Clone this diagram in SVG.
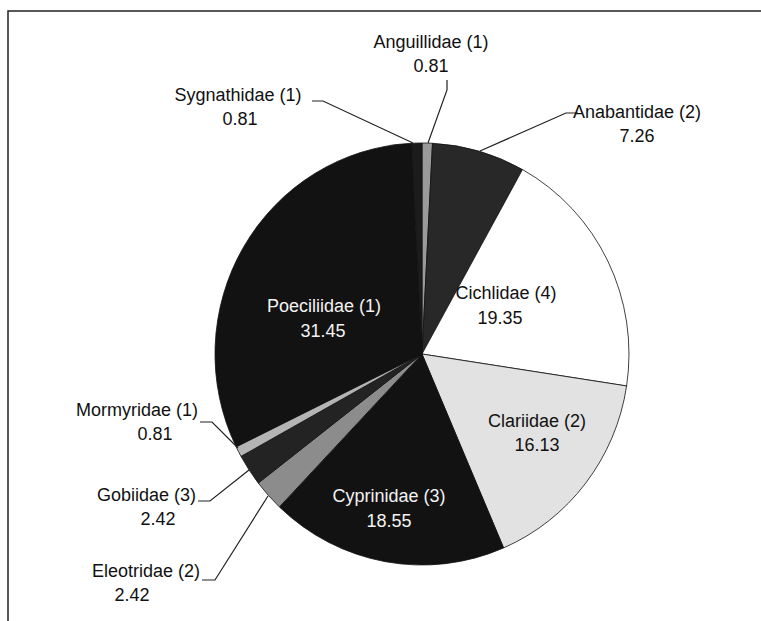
<svg xmlns="http://www.w3.org/2000/svg" width="761" height="621" viewBox="0 0 761 621">
<style>
.lbl{font-family:"Liberation Sans",Arial,sans-serif;font-size:18px;fill:#111;text-anchor:middle}
.end{text-anchor:end}
.inv{fill:#f2f2f2}
.sl{stroke:#111;stroke-width:0.8}
.ld{fill:none;stroke:#222;stroke-width:1.2}
</style>
<rect width="761" height="621" fill="#fff"/>
<path d="M8 621 V11 H761" fill="none" stroke="#222" stroke-width="1.5"/>
<g id="slices">
<g id="anguillidae"><path class="sl" d="M422 354 L422 143 A207 211 0 0 1 432.53 143.27 Z" fill="#9a9a9a"/></g>
<g id="anabantidae"><path class="sl" d="M422 354 L432.53 143.27 A207 211 0 0 1 522.51 169.54 Z" fill="#282828"/></g>
<g id="cichlidae"><path class="sl" d="M422 354 L522.51 169.54 A207 211 0 0 1 626.61 385.96 Z" fill="#ffffff"/></g>
<g id="clariidae"><path class="sl" d="M422 354 L626.61 385.96 A207 211 0 0 1 503.61 547.91 Z" fill="#e2e2e2"/></g>
<g id="cyprinidae"><path class="sl" d="M422 354 L503.61 547.91 A207 211 0 0 1 279.37 506.92 Z" fill="#121212"/></g>
<g id="eleotridae"><path class="sl" d="M422 354 L279.37 506.92 A207 211 0 0 1 258.24 483.07 Z" fill="#8c8c8c"/></g>
<g id="gobiidae"><path class="sl" d="M422 354 L258.24 483.07 A207 211 0 0 1 240.99 456.37 Z" fill="#232323"/></g>
<g id="mormyridae"><path class="sl" d="M422 354 L240.99 456.37 A207 211 0 0 1 236.11 446.83 Z" fill="#b4b4b4"/></g>
<g id="poeciliidae"><path class="sl" d="M422 354 L236.11 446.83 A207 211 0 0 1 411.6 143.27 Z" fill="#121212"/></g>
<g id="sygnathidae"><path class="sl" d="M422 354 L411.6 143.27 A207 211 0 0 1 422 143 Z" fill="#1c1c1c"/></g>
</g>
<g id="connectors">
<path class="ld" d="M312 101 H323 L413 143"/>
<path class="ld" d="M447 80 V90 L428 143"/>
<path class="ld" d="M578 113 H566 L480 151"/>
<path class="ld" d="M200 422 H212 L238 448"/>
<path class="ld" d="M198 501 H210 L249 470"/>
<path class="ld" d="M202 580 H215 L268 496"/>
</g>
<g id="labels">
<g id="lbl-anguillidae"><text class="lbl" x="431" y="48">Anguillidae (1)</text><text class="lbl" x="431" y="72">0.81</text></g>
<g id="lbl-sygnathidae"><text class="lbl" x="238" y="101">Sygnathidae (1)</text><text class="lbl" x="240" y="125">0.81</text></g>
<g id="lbl-anabantidae"><text class="lbl" x="637" y="118">Anabantidae (2)</text><text class="lbl" x="637" y="142">7.26</text></g>
<g id="lbl-cichlidae"><text class="lbl" x="506" y="299">Cichlidae (4)</text><text class="lbl" x="500" y="324">19.35</text></g>
<g id="lbl-poeciliidae"><text class="lbl inv" x="324" y="312">Poeciliidae (1)</text><text class="lbl inv" x="323" y="337">31.45</text></g>
<g id="lbl-clariidae"><text class="lbl" x="537" y="427">Clariidae (2)</text><text class="lbl" x="537" y="451">16.13</text></g>
<g id="lbl-cyprinidae"><text class="lbl inv" x="389" y="502">Cyprinidae (3)</text><text class="lbl inv" x="389" y="527">18.55</text></g>
<g id="lbl-mormyridae"><text class="lbl end" x="198" y="416">Mormyridae (1)</text><text class="lbl" x="155" y="440">0.81</text></g>
<g id="lbl-gobiidae"><text class="lbl end" x="196" y="501">Gobiidae (3)</text><text class="lbl" x="158" y="525">2.42</text></g>
<g id="lbl-eleotridae"><text class="lbl end" x="200" y="577">Eleotridae (2)</text><text class="lbl" x="132" y="601">2.42</text></g>
</g>
</svg>
